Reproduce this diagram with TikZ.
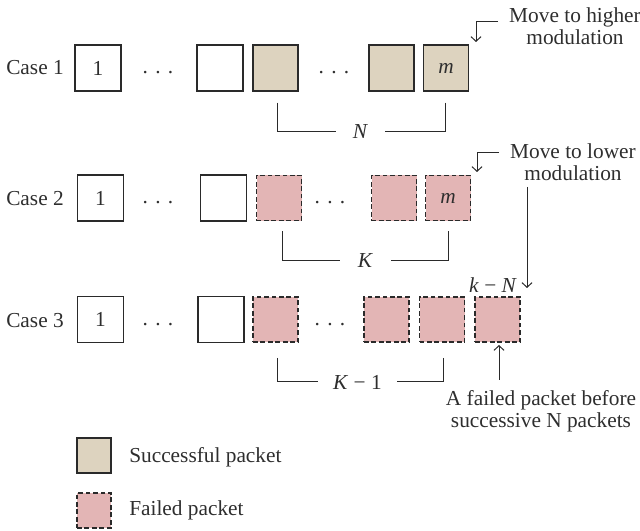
\documentclass[tikz,border=0pt]{standalone}
\usepackage{fontspec}
\setmainfont{Liberation Serif}
\usetikzlibrary{arrows.meta,calc}
\definecolor{edge}{HTML}{2A2A2A}
\definecolor{tanc}{HTML}{DDD3BF}
\definecolor{pinkc}{HTML}{E3B5B5}
\definecolor{txt}{HTML}{2E2E2E}
\newcommand{\mydots}{.\hspace{5.5pt}.\hspace{5.5pt}.}
\begin{document}
\begin{tikzpicture}[x=0.75pt,y=-0.75pt,
  font=\fontsize{16}{16.5}\selectfont, text=txt,
  wbox/.style={draw=edge, line width=1pt, fill=white, minimum width=34.5pt, minimum height=34.5pt, inner sep=0pt},
  sbox/.style={draw=edge, line width=1pt, fill=tanc, minimum width=33.75pt, minimum height=34.5pt, inner sep=0pt},
  fbox/.style={draw=edge, line width=1.1pt, dash pattern=on 3.6pt off 2pt, fill=pinkc, minimum width=33.75pt, minimum height=34pt, inner sep=0pt},
  lab/.style={inner sep=0pt},
  dotsn/.style={inner sep=0pt, anchor=base},
  brk/.style={draw=edge, line width=0.75pt},
  arr/.style={draw=edge, line width=0.75pt, -{Straight Barb[length=3.5pt,width=7.5pt]}}
]
\useasboundingbox (0,0) rectangle (640,531);

% ---------- Case 1 ----------
\node[lab] (case1) at (35,68) {Case 1};
\node[wbox] (a1) at (98,68) {1};
\node[dotsn] (d11) at (158,74) {\mydots};
\node[wbox] (a2) at (220,68) {};
\node[sbox] (a3) at (275.5,68) {};
\node[dotsn] (d12) at (334,74) {\mydots};
\node[sbox] (a4) at (391.5,68) {};
\node[sbox] (a5) at (446,68) {\textit{m}};

\node[lab, minimum width=36.75pt] (N) at (360.5,132) {\textit{N}};
\draw[brk] ($(a3.south)+(2,11)$) |- (N.west);
\draw[brk] ($(a5.south)+(-1,11)$) |- (N.east);

\node[lab, align=center] (hi) at (575,26) {Move to higher\\modulation};
\coordinate (hi0) at (498,22);
\coordinate (hi1) at (476,42);
\draw[arr] (hi0) -| (hi1);

% ---------- Case 2 ----------
\node[lab] (case2) at (35,199) {Case 2};
\node[wbox] (b1) at (100.5,198) {1};
\node[dotsn] (d21) at (158,204) {\mydots};
\node[wbox] (b2) at (223.5,198) {};
\node[fbox] (b3) at (279,198) {};
\node[dotsn] (d22) at (330,204) {\mydots};
\node[fbox] (b4) at (394,198) {};
\node[fbox] (b5) at (448,198) {\textit{m}};

\node[lab, minimum width=38.25pt] (K) at (365.5,261) {\textit{K}};
\draw[brk] ($(b3.south)+(3,10)$) |- (K.west);
\draw[brk] ($(b5.south)+(0,10)$) |- (K.east);

\node[lab, align=center] (lo) at (573,162.5) {Move to lower\\modulation};
\coordinate (lo0) at (499,153);
\coordinate (lo1) at (477,172);
\draw[arr] (lo0) -| (lo1);

\node[lab] (kN) at (493,285) {\textit{k} − \textit{N}};
\coordinate (v0) at (527,187);
\coordinate (v1) at (527,288);
\draw[arr] (v0) -- (v1);

% ---------- Case 3 ----------
\node[lab] (case3) at (35,321) {Case 3};
\node[wbox] (c1) at (100.5,319.5) {1};
\node[dotsn] (d31) at (158,326) {\mydots};
\node[wbox] (c2) at (221,319.5) {};
\node[fbox] (c3) at (275.5,319.5) {};
\node[dotsn] (d32) at (330,326) {\mydots};
\node[fbox] (c4) at (386.5,319.5) {};
\node[fbox] (c5) at (442,319.5) {};
\node[fbox] (c6) at (497.5,319.5) {};

\node[lab, minimum width=59.25pt] (K1) at (357.5,382) {\textit{K} − 1};
\draw[brk] ($(c3.south)+(1.5,15)$) |- (K1.west);
\draw[brk] ($(c5.south)+(1,15)$) |- (K1.east);

\node[lab, align=center] (fail) at (541,411.5) {A failed packet before\\successive N packets};
\coordinate (u0) at (499,380);
\coordinate (u1) at (499,345);
\draw[arr] (u0) -- (u1);

% ---------- Legend ----------
\node[sbox, minimum width=25.5pt, minimum height=26.25pt] (ls) at (94,455.5) {};
\node[lab, anchor=west] (lst) at (129,457) {Successful packet};
\node[fbox, minimum width=25.5pt, minimum height=26.25pt] (lf) at (94,510.5) {};
\node[lab, anchor=west] (lft) at (129,510) {Failed packet};
\end{tikzpicture}
\end{document}
